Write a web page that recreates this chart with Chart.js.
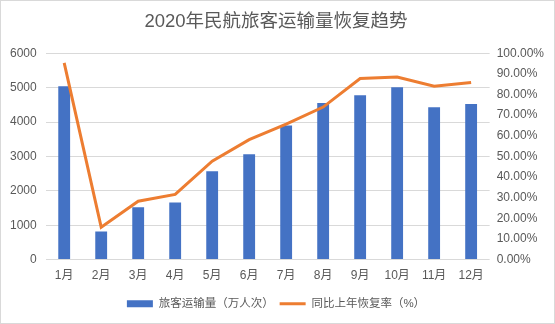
<!DOCTYPE html>
<html>
<head>
<meta charset="utf-8">
<script src="https://cdn.jsdelivr.net/npm/chart.js@4/dist/chart.umd.min.js"></script>
<style>
  body { margin: 0; background: #fff; }
  #box { width: 555px; height: 324px; box-sizing: border-box; border: 1px solid #d9d9d9; }
  canvas { display: block; }
</style>
</head>
<body>
<div id="box"><canvas id="chart" width="553" height="322"></canvas></div>
<script>
const months = ['1月','2月','3月','4月','5月','6月','7月','8月','9月','10月','11月','12月'];
const passengers = [5040, 820, 1520, 1660, 2570, 3060, 3900, 4550, 4780, 5010, 4430, 4520];
const recoveryRate = [95.3, 15.7, 28.3, 31.6, 47.7, 58.1, 65.6, 73.9, 87.7, 88.5, 84.0, 85.8];
const titleText = '2020年民航旅客运输量恢复趋势';

const FONT = "'Liberation Sans', 'Noto Sans CJK SC', sans-serif";
const GREY = '#595959';

new Chart(document.getElementById('chart'), {
  data: {
    labels: months,
    datasets: [
      {
        type: 'line',
        label: '同比上年恢复率（%）',
        data: recoveryRate,
        yAxisID: 'y2',
        borderColor: '#ED7D31',
        backgroundColor: '#ED7D31',
        borderWidth: 3,
        pointRadius: 0,
        pointStyle: 'line',
        tension: 0,
        order: 0
      },
      {
        type: 'bar',
        label: '旅客运输量（万人次）',
        data: passengers,
        yAxisID: 'y',
        backgroundColor: '#4472C4',
        borderWidth: 0,
        pointStyle: 'rect',
        barPercentage: 0.32,
        categoryPercentage: 1,
        order: 1
      }
    ]
  },
  options: {
    responsive: false,
    animation: false,
    layout: { padding: { left: 0, right: 3, top: 0, bottom: 3.5 } },
    plugins: {
      title: {
        display: true,
        text: titleText,
        color: GREY,
        font: { family: FONT, size: 18.5, weight: 'normal' },
        padding: { top: 10, bottom: 20 }
      },
      legend: {
        position: 'bottom',
        reverse: true,
        labels: {
          color: GREY,
          font: { family: FONT, size: 11.5 },
          usePointStyle: true,
          pointStyleWidth: 26,
          boxHeight: 7,
          padding: 6
        }
      },
      tooltip: { enabled: false }
    },
    scales: {
      x: {
        offset: true,
        grid: { display: false, drawTicks: false },
        border: { display: false },
        ticks: { color: GREY, font: { family: FONT, size: 12 }, padding: 9, maxRotation: 0 }
      },
      y: {
        position: 'left',
        min: 0,
        max: 6000,
        border: { display: false },
        grid: { color: '#d9d9d9', drawTicks: false },
        ticks: { stepSize: 1000, color: GREY, font: { family: FONT, size: 12 }, padding: 9, callback: v => String(v) }
      },
      y2: {
        position: 'right',
        min: 0,
        max: 100,
        border: { display: false },
        grid: { display: false, drawTicks: false },
        ticks: {
          stepSize: 10,
          color: GREY,
          font: { family: FONT, size: 12 },
          padding: 7,
          callback: v => v.toFixed(2) + '%'
        }
      }
    }
  }
});
</script>
</body>
</html>
